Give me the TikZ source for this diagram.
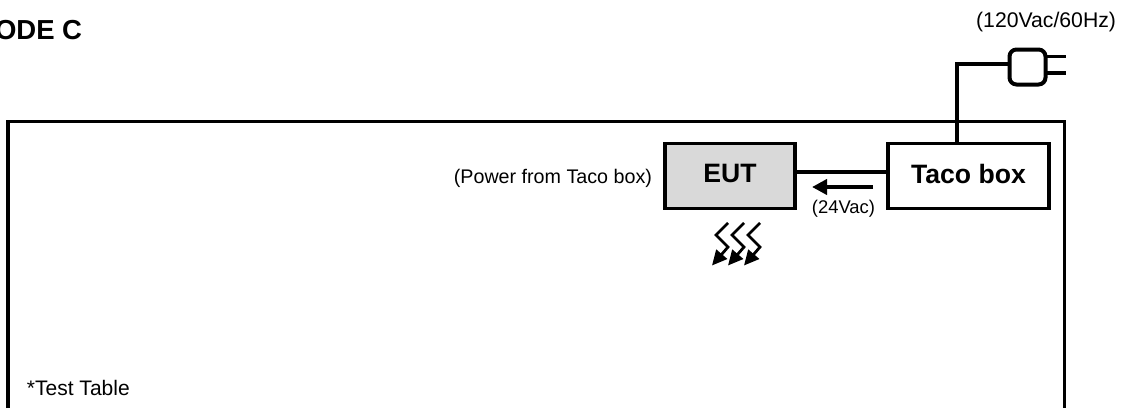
\documentclass[tikz,border=0pt]{standalone}
\usepackage{fontspec}
\setmainfont{Liberation Sans}
\usetikzlibrary{arrows.meta}
\definecolor{eutgray}{HTML}{D9D9D9}
\tikzset{
  every node/.style={inner sep=0pt,outer sep=0pt},
  wire/.style={line width=3.5pt,line join=miter},
  boxed/.style={draw=black,line width=3.5pt,minimum width=#1,minimum height=65pt},
  plugbody/.style={draw=black,fill=white,line width=4pt,rounded corners=7pt,minimum width=36pt,minimum height=35pt},
  bigtext/.style={font=\fontsize{26.6}{30}\selectfont\bfseries},
  small/.style={font=\fontsize{#1}{#1}\selectfont,text=black},
  flowarrow/.style={line width=4pt,-{Triangle[length=15pt,width=15pt]}},
  heat/.style={line width=2.8pt,-{Triangle[length=15pt,width=14pt]},line join=miter}
}
\begin{document}
\begin{tikzpicture}[x=1pt,y=-1pt]
\useasboundingbox (0,0) rectangle (1124,408);
% table outline (open at the bottom)
\coordinate (tl) at (8,408);
\coordinate (tc) at (8,121.5);
\coordinate (tr) at (1064.5,121.5);
\coordinate (br) at (1064.5,408);
\draw[wire] (tl) -- (tc) -- (tr) -- (br);

% boxes
\node[boxed=130pt,fill=eutgray,bigtext] (eut) at (730,176) {\raisebox{5pt}{EUT}};
\node[boxed=161pt,fill=white,bigtext] (taco) at (968.5,176) {\raisebox{5pt}{Taco box}};
\draw[wire] ([yshift=4pt]eut.east) -- ([yshift=4pt]taco.west);

% plug and cord
\node[plugbody] (plug) at (1027.5,67) {};
\coordinate (cordbase) at (957,143.5);
\coordinate (cordup) at (957,64);
\coordinate (cordin) at (1009.5,64);
\draw[wire] (cordbase) -- (cordup) -- (cordin);
\coordinate (prongA) at (1066,56.7);
\coordinate (prongB) at (1066,73);
\draw[wire] (plug.east |- prongA) -- (prongA);
\draw[wire] (plug.east |- prongB) -- (prongB);

% current arrow
\coordinate (flowS) at (873,187);
\coordinate (flowE) at (812,187);
\draw[flowarrow] (flowS) -- (flowE);

% heat arrows
\foreach \d in {0,16,32}{
  \coordinate (h1) at (728+\d,223);
  \coordinate (h2) at (716+\d,235);
  \coordinate (h3) at (728+\d,247);
  \coordinate (h4) at (712+\d,265.5);
  \draw[heat] (h1) -- (h2) -- (h3) -- (h4);
}

% labels
\node[small=21.2,anchor=base east] (mains) at (1116,27.5) {(120Vac/60Hz)};
\node[small=19.7,anchor=base east] (power) at (652,183) {(Power from Taco box)};
\node[small=18.4,anchor=base] (vac) at (843.5,213) {(24Vac)};
\node[small=21,anchor=base west] (table) at (27,395.5) {*Test Table};
\node[font=\fontsize{27.5}{30}\selectfont\bfseries,anchor=base west] (mode) at (-5,39) {ODE C};
\end{tikzpicture}
\end{document}
